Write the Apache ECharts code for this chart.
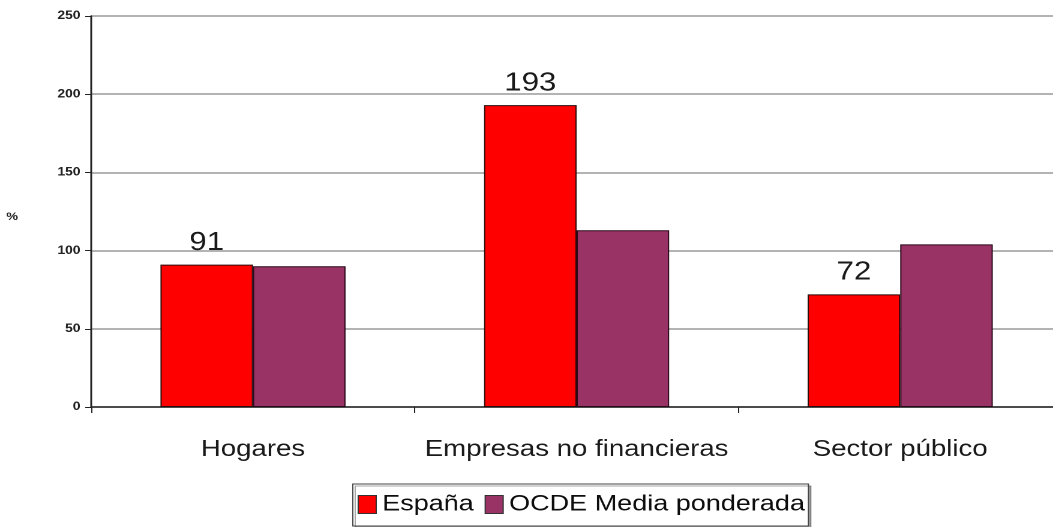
<!DOCTYPE html>
<html>
<head>
<meta charset="utf-8">
<script src="https://cdn.jsdelivr.net/npm/echarts@6/dist/echarts.min.js"></script>
<style>
  html, body { margin: 0; padding: 0; background: #fff; overflow: hidden; width: 1053px; height: 527px; }
  /* The chart is laid out narrower and widened horizontally, giving the broad lettering */
  #chart { width: 885px; height: 527px; transform: scaleX(1.2); transform-origin: 0 0; }
</style>
</head>
<body>
<div id="chart"></div>
<script>
const categories = ['Hogares', 'Empresas no financieras', 'Sector público'];
const espana = [91, 193, 72];
const ocde = [90, 113, 104];
const yTicks = { min: 0, max: 250, interval: 50 };

const chart = echarts.init(document.getElementById('chart'), null, { renderer: 'canvas', devicePixelRatio: 2 });

const font = 'Liberation Sans, Arial, sans-serif';

chart.setOption({
  animation: false,
  backgroundColor: '#ffffff',
  grid: { left: 76, right: 0, top: 16, bottom: 120, containLabel: false },
  legend: {
    data: ['España', 'OCDE Media ponderada'],
    icon: 'rect',
    left: 294,
    top: 484,
    orient: 'horizontal',
    itemWidth: 15,
    itemHeight: 18,
    itemGap: 9,
    padding: [9, 3, 10, 4],
    borderColor: '#444',
    borderWidth: 1,
    shadowColor: 'rgba(0,0,0,0.35)',
    shadowOffsetX: 2,
    shadowOffsetY: 2,
    backgroundColor: '#fff',
    textStyle: { fontFamily: font, fontSize: 22.5, color: '#0d0d0d' },
    itemStyle: { borderColor: '#333', borderWidth: 1 }
  },
  xAxis: {
    type: 'category',
    data: categories,
    axisLine: { lineStyle: { color: '#222', width: 1.5 } },
    axisTick: { show: true, interval: 0, length: 6, lineStyle: { color: '#222' } },
    axisLabel: { interval: 0, fontFamily: font, fontSize: 23, color: '#1a1a1a', margin: 31 }
  },
  yAxis: {
    type: 'value',
    min: yTicks.min,
    max: yTicks.max,
    interval: yTicks.interval,
    name: '%',
    nameLocation: 'middle',
    nameGap: 61,
    nameRotate: 0,
    nameTextStyle: { fontFamily: font, fontSize: 11, fontWeight: 'bold', color: '#222', verticalAlign: 'top' },
    axisLine: { show: true, lineStyle: { color: '#222', width: 1.5 } },
    axisTick: { show: true, length: 5, lineStyle: { color: '#222' } },
    axisLabel: { fontFamily: font, fontSize: 11.5, fontWeight: 'bold', color: '#222', margin: 9 },
    splitLine: { show: true, lineStyle: { color: '#9a9a9a', width: 1.5 } }
  },
  series: [
    {
      name: 'España',
      type: 'bar',
      data: espana,
      barGap: '0%',
      barCategoryGap: '42.8%',
      itemStyle: { color: '#ff0000', borderColor: '#2a0a0a', borderWidth: 1 },
      label: {
        show: true,
        position: 'top',
        distance: 9,
        fontFamily: font,
        fontSize: 26,
        color: '#1a1a1a'
      }
    },
    {
      name: 'OCDE Media ponderada',
      type: 'bar',
      data: ocde,
      itemStyle: { color: '#993366', borderColor: '#2a0a1a', borderWidth: 1 }
    }
  ]
});
</script>
</body>
</html>
